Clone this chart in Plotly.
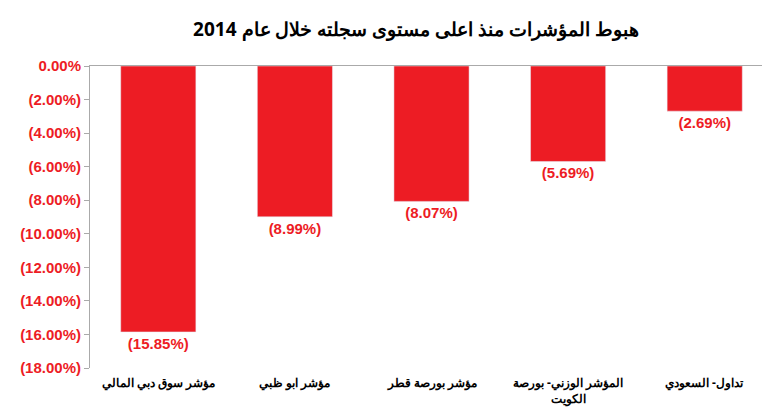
import plotly.graph_objects as go

categories = ["مؤشر سوق دبي المالي", "مؤشر ابو ظبي", "مؤشر بورصة قطر",
              "المؤشر الوزني- بورصة<br>الكويت", "تداول- السعودي"]
values = [-15.85, -8.99, -8.07, -5.69, -2.69]
tick_vals = [0, -2, -4, -6, -8, -10, -12, -14, -16, -18]
tick_text = ["<b>0.00%</b>"] + ["<b>(%.2f%%)</b>" % abs(v) for v in tick_vals[1:]]
red = "#ed1c24"

fig = go.Figure(go.Bar(
    x=categories, y=values,
    marker_color=red, width=0.55,
    text=["<b>(%.2f%%)</b>" % abs(v) for v in values],
    textposition="outside", cliponaxis=False,
    textfont=dict(color=red, size=15, family="Liberation Sans"),
))
fig.update_layout(
    width=770, height=411, plot_bgcolor="white", paper_bgcolor="white",
    margin=dict(l=82, r=5, t=58, b=51),
    title=dict(text="<b>هبوط المؤشرات منذ اعلى مستوى سجلته خلال عام 2014</b>",
               x=0.53, y=0.965, xanchor="center",
               font=dict(size=19, color="black", family="Noto Sans")),
    font=dict(family="Liberation Sans"),
    showlegend=False,
)
fig.update_yaxes(range=[-18, 0], tickvals=tick_vals, ticktext=tick_text,
                 tickfont=dict(color=red, size=15, family="Liberation Sans"),
                 showgrid=False, zeroline=False, showline=True, linecolor="#aaaaaa",
                 ticks="outside", ticklen=5, tickcolor="#aaaaaa")
fig.update_xaxes(side="top", showticklabels=False, showline=True, linecolor="#aaaaaa",
                 showgrid=False)
for c in categories:
    fig.add_annotation(x=c, y=0, yref="paper", yanchor="top", yshift=-4, text="<b>%s</b>" % c,
                       showarrow=False, font=dict(size=12, color="black", family="Noto Sans"))
fig.write_html("out.html")
